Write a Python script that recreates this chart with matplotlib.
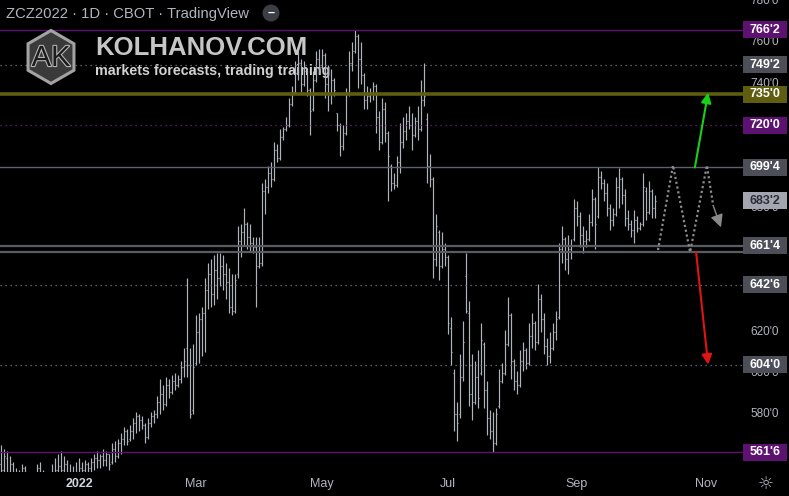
import numpy as np
import matplotlib.pyplot as plt
import matplotlib.transforms as mtransforms
import matplotlib.patheffects as pe
from matplotlib.patches import RegularPolygon, Rectangle, Circle

# daily OHLC of ZCZ2022 (cents, ' = eighths), one value per trading day
opens = [556, 553, 559, 552, 556, 551, 549, 550, 554, 548,
         549, 545, 548, 554, 551, 552, 547, 549, 552, 553,
         555, 553, 556, 550, 551, 548, 551, 554, 553, 556,
         554, 557, 559, 558, 560, 558, 561, 557, 563, 560,
         566, 568, 572, 568, 572, 576, 579, 577, 575, 569,
         576, 579, 580, 586, 590, 585, 594, 591, 596, 594,
         597, 603, 612, 604, 582, 605, 620, 626, 629, 640,
         648, 638, 650, 646, 652, 648, 644, 632, 630, 648,
         664, 668, 672, 666, 663, 661, 652, 653, 688, 690,
         697, 694, 708, 704, 714, 718, 720, 730, 736, 745,
         750, 740, 746, 737, 728, 742, 752, 748, 754, 740,
         735, 742, 726, 720, 710, 716, 735, 750, 756, 763,
         752, 744, 732, 734, 735, 739, 724, 712, 728, 716,
         700, 692, 691, 702, 712, 717, 722, 720, 715, 722,
         718, 732, 723, 700, 694, 655, 668, 652, 660, 656,
         622, 600, 580, 580, 598, 647, 629, 590, 586, 598,
         600, 614, 592, 578, 572, 566, 584, 596, 600, 614,
         628, 606, 596, 594, 606, 611, 605, 618, 624, 615,
         636, 626, 613, 608, 612, 620, 627, 660, 665, 655,
         660, 665, 680, 676, 667, 664, 665, 673, 684, 676,
         695, 692, 687, 680, 674, 677, 690, 694, 686, 675,
         672, 669, 674, 670, 672, 688, 678, 688, 680]
highs = [565, 563, 562, 560, 557, 554, 553, 556, 555, 552,
         551, 550, 556, 557, 553, 552, 551, 556, 559, 561,
         562, 560, 558, 556, 555, 557, 559, 557, 558, 557,
         559, 561, 562, 561, 563, 562, 561, 566, 567, 568,
         571, 574, 573, 575, 578, 581, 580, 579, 576, 578,
         581, 582, 589, 597, 594, 598, 597, 599, 600, 599,
         606, 612, 646, 612, 614, 628, 629, 632, 646, 653,
         655, 657, 658, 658, 657, 653, 651, 648, 648, 671,
         672, 680, 673, 672, 666, 666, 666, 692, 694, 700,
         702, 712, 711, 718, 719, 724, 733, 739, 751, 756,
         752, 751, 747, 738, 746, 756, 757, 757, 755, 749,
         747, 743, 726, 721, 720, 738, 756, 760, 766.25, 764,
         760, 745, 739, 738, 741, 740, 727, 733, 731, 717,
         701, 697, 705, 721, 724, 726, 729, 726, 724, 729,
         742, 750, 726, 706, 695, 677, 669, 668, 663, 657,
         627, 602, 586, 609, 625, 658, 635, 609, 606, 611,
         624, 615, 596, 582, 581, 583, 602, 605, 621, 637,
         629, 607, 601, 611, 615, 612, 624, 629, 625, 643,
         638, 629, 617, 620, 624, 630, 663, 671, 666, 667,
         665, 684, 683, 678, 671, 669, 677, 689, 685, 699.5,
         698, 694, 692, 682, 680, 695, 699, 695, 689, 679,
         674, 679, 676, 673, 697, 690, 693, 689, 686]
lows = [550, 549, 550, 548, 548, 546, 545, 547, 546, 544,
        543, 542, 545, 548, 546, 545, 544, 546, 548, 549,
        550, 549, 548, 546, 545, 546, 548, 550, 551, 551,
        552, 553, 554, 554, 555, 555, 553, 556, 557, 559,
        561, 565, 565, 567, 568, 571, 572, 573, 566, 568,
        574, 576, 578, 580, 582, 584, 588, 590, 592, 593,
        595, 598, 598, 578, 580, 604, 605, 608, 610, 631,
        632, 633, 636, 642, 640, 636, 629, 628, 629, 646,
        656, 662, 660, 659, 658, 632, 651, 652, 677, 687,
        690, 693, 702, 703, 713, 717, 719, 729, 735, 742,
        736, 739, 734, 715, 727, 741, 745, 747, 733, 727,
        730, 734, 717, 705, 708, 715, 734, 746, 755, 738,
        740, 728, 728, 731, 732, 716, 708, 711, 712, 683,
        688, 689, 690, 697, 709, 713, 718, 708, 714, 713,
        717, 729, 692, 690, 646, 652, 645, 651, 652, 619,
        604, 572, 567, 578, 596, 629, 584, 577, 585, 583,
        599, 583, 570, 568, 561.75, 565, 583, 595, 599, 613,
        597, 592, 590, 593, 601, 602, 604, 612, 611, 614,
        620, 609, 604, 605, 611, 616, 626, 653, 650, 648,
        655, 664, 671, 661, 658, 661, 664, 671, 660, 675,
        689, 683, 676, 669, 671, 676, 680, 682, 671, 669,
        666, 663, 668, 669, 671, 674, 677, 675, 675]
closes = [553, 560, 552, 556, 551, 549, 551, 554, 548, 550,
          545, 548, 554, 551, 552, 547, 549, 552, 553, 555,
          553, 556, 550, 551, 548, 551, 554, 553, 556, 554,
          557, 559, 558, 560, 558, 561, 556, 563, 560, 566,
          568, 572, 567, 572, 576, 579, 577, 575, 569, 576,
          579, 580, 586, 590, 585, 594, 591, 596, 594, 597,
          603, 606, 604, 580, 603, 620, 626, 629, 640, 648,
          638, 650, 646, 652, 648, 644, 632, 630, 645, 664,
          668, 672, 666, 663, 661, 652, 653, 688, 690, 697,
          694, 708, 704, 714, 718, 720, 730, 736, 745, 750,
          740, 746, 737, 727, 742, 752, 748, 754, 740, 735,
          742, 737, 720, 710, 716, 735, 750, 756, 763, 752,
          744, 732, 734, 735, 739, 724, 712, 728, 716, 705,
          692, 691, 702, 712, 717, 722, 720, 715, 722, 718,
          732, 734, 700, 694, 655, 671, 652, 660, 656, 624,
          610, 580, 576, 598, 615, 630, 590, 586, 598, 588,
          616, 592, 578, 572, 566, 580, 596, 600, 614, 628,
          606, 596, 594, 606, 611, 605, 618, 624, 615, 636,
          626, 613, 608, 612, 620, 626, 660, 665, 655, 660,
          662, 680, 676, 667, 664, 665, 673, 684, 672, 695,
          692, 687, 680, 674, 677, 690, 694, 686, 675, 672,
          669, 674, 670, 672, 690, 678, 688, 680, 683.25]

# month labels (bar index of first session of the month)
month_bars = [26, 65, 107, 149, 192, 235]
month_names = ['2022', 'Mar', 'May', 'Jul', 'Sep', 'Nov']

# price axis grid labels still (partly) visible behind the level tags
axis_ticks = [580, 600, 620, 680, 740, 760, 780]

# marked levels
lvl_prices = [766.25, 749.25, 735.0, 720.0, 699.5, 661.5, 658.5, 642.75, 604.0, 561.75]
lvl_kinds = ['purple', 'gray_dot', 'olive', 'purple_dot', 'gray', 'gray_thick',
             'gray_thick', 'gray_dot', 'gray_dot', 'purple']
tag_prices = [766.25, 749.25, 735.0, 720.0, 699.5, 683.25, 661.5, 642.75, 604.0, 561.75]
tag_texts = ["766'2", "749'2", "735'0", "720'0", "699'4", "683'2", "661'4", "642'6", "604'0", "561'6"]
tag_kinds = ['purple', 'gray', 'olive', 'purple', 'gray', 'last', 'gray', 'gray', 'gray', 'purple']

# forecast scenarios (bar index, price)
path_bars = [219, 224, 229.7, 235.3, 237.4]
path_prices = [659.5, 700.5, 658.5, 700.5, 681]
arrow_tip = (240, 670.5)
up_arrow = [(231.3, 699.5), (235.7, 735.7)]
down_arrow = [(231.7, 658.5), (235.7, 604.0)]

W, H = 789, 496
BG = '#000000'
TXT = '#b2b5be'
PURPLE = '#5d1170'
OLIVE = '#5e5d10'
GRAY = '#4c4f57'

plt.rcParams['font.family'] = ['Liberation Sans', 'DejaVu Sans']

fig = plt.figure(figsize=(W / 100, H / 100), dpi=100, facecolor=BG)
ax = fig.add_axes([0, 24 / H, 745 / W, 472 / H], facecolor=BG)
ax.set_xlim(-1 / 3, 248)
ax.set_ylim(552.07, 780.53)
for s in ax.spines.values():
    s.set_visible(False)
ax.set_xticks([])
ax.set_yticks([])

# OHLC bars
idx = np.arange(len(closes))
bar_c = '#b0b3bc'
ax.vlines(idx, lows, highs, color=bar_c, lw=0.85, zorder=2)
ax.hlines(opens, idx - 0.45, idx, color=bar_c, lw=0.85, zorder=2)
ax.hlines(closes, idx, idx + 0.45, color=bar_c, lw=0.85, zorder=2)

# horizontal levels
line_styles = {
    'purple': dict(color=PURPLE, lw=1.0, ls='-'),
    'purple_dot': dict(color='#7a1f8c', lw=0.9, ls=(0, (1, 3))),
    'olive': dict(color=OLIVE, lw=2.6, ls='-'),
    'gray': dict(color='#5d606b', lw=1.0, ls='-'),
    'gray_thick': dict(color='#5a5c63', lw=1.6, ls='-'),
    'gray_dot': dict(color='#787b86', lw=0.9, ls=(0, (1, 3))),
}
for p, k in zip(lvl_prices, lvl_kinds):
    ax.axhline(p, zorder=3, **line_styles[k])

# forecast paths
ax.plot(path_bars, path_prices, color='#8c8c8c', lw=1.6, ls=(0, (1, 1.2)), zorder=4)
ax.annotate('', xy=arrow_tip, xytext=(path_bars[-1], path_prices[-1]),
            arrowprops=dict(arrowstyle='-|>', color='#8a8a8a', lw=1.0,
                            mutation_scale=19, shrinkA=0, shrinkB=0), zorder=4)
ax.annotate('', xy=up_arrow[1], xytext=up_arrow[0],
            arrowprops=dict(arrowstyle='-|>', color='#17d017', lw=1.5,
                            mutation_scale=15, shrinkA=0, shrinkB=0), zorder=4)
ax.annotate('', xy=down_arrow[1], xytext=down_arrow[0],
            arrowprops=dict(arrowstyle='-|>', color='#e01414', lw=1.5,
                            mutation_scale=15, shrinkA=0, shrinkB=0), zorder=4)

# price axis
trans = mtransforms.blended_transform_factory(ax.transAxes, ax.transData)
xc = 765 / 745
for t in axis_ticks:
    ax.text(xc, t, f"{t}'0", transform=trans, ha='center', va='center',
            color=TXT, fontsize=8.5, clip_on=False, zorder=5)

tag_colors = {'purple': (PURPLE, 'white'), 'gray': (GRAY, 'white'),
              'olive': (OLIVE, 'white'), 'last': ('#a3a6af', '#2a2e39')}
box_h = 17 / 2.066
for p, txt, k in zip(tag_prices, tag_texts, tag_kinds):
    fc, tc = tag_colors[k]
    ax.add_patch(Rectangle((743 / 745, p - box_h / 2), 44 / 745, box_h, transform=trans,
                           facecolor=fc, edgecolor='none', clip_on=False, zorder=6))
    ax.text(xc, p, txt, transform=trans, ha='center', va='center', color=tc,
            fontsize=9, fontweight='bold', clip_on=False, zorder=7)

# time axis
ttrans = mtransforms.blended_transform_factory(ax.transData, ax.transAxes)
for b, name in zip(month_bars, month_names):
    ax.text(b, -12 / 472, name, transform=ttrans, ha='center', va='center',
            color='#d1d4dc' if name == '2022' else TXT, fontsize=9,
            fontweight='bold' if name == '2022' else 'normal', clip_on=False)
fig.text(766 / W, 1 - 484 / H, '\u263c', color=TXT, fontsize=13, ha='center', va='center',
         family='DejaVu Sans')

# header
fig.text(6 / W, 1 - 14 / H, 'ZCZ2022 \u00b7 1D \u00b7 CBOT \u00b7 TradingView', color=TXT,
         fontsize=10.6, ha='left', va='center')
fig.add_artist(Circle((2.71, (H - 13) / 100), 0.085, transform=fig.dpi_scale_trans,
                      facecolor='#3b3e45', edgecolor='none'))
fig.text(271 / W, 1 - 13 / H, '\u2013', color='white', fontsize=9, fontweight='bold',
         ha='center', va='center')

# watermark logo
fig.add_artist(RegularPolygon((0.51, (H - 57) / 100), numVertices=6, radius=0.265,
                              transform=fig.dpi_scale_trans, facecolor='#3a3a3a',
                              edgecolor='#a3a3a3', lw=2.2))
fig.text(51 / W, 1 - 58 / H, 'AK', color='#1c1c1c', fontsize=21, ha='center', va='center',
         path_effects=[pe.withStroke(linewidth=1.6, foreground='#b5b5b5')])
ax.text(95 / W, 1 - 48 / H, 'KOLHANOV.COM', transform=fig.transFigure, color='#c6c6c6',
        fontsize=18.5, fontweight='bold', ha='left', va='center', zorder=1)
ax.text(95 / W, 1 - 71 / H, 'markets forecasts, trading training', transform=fig.transFigure,
        color='#d2d2d2', fontsize=10.3, fontweight='bold', ha='left', va='center', zorder=1)

fig.savefig('out.png', dpi=100, facecolor=BG)
